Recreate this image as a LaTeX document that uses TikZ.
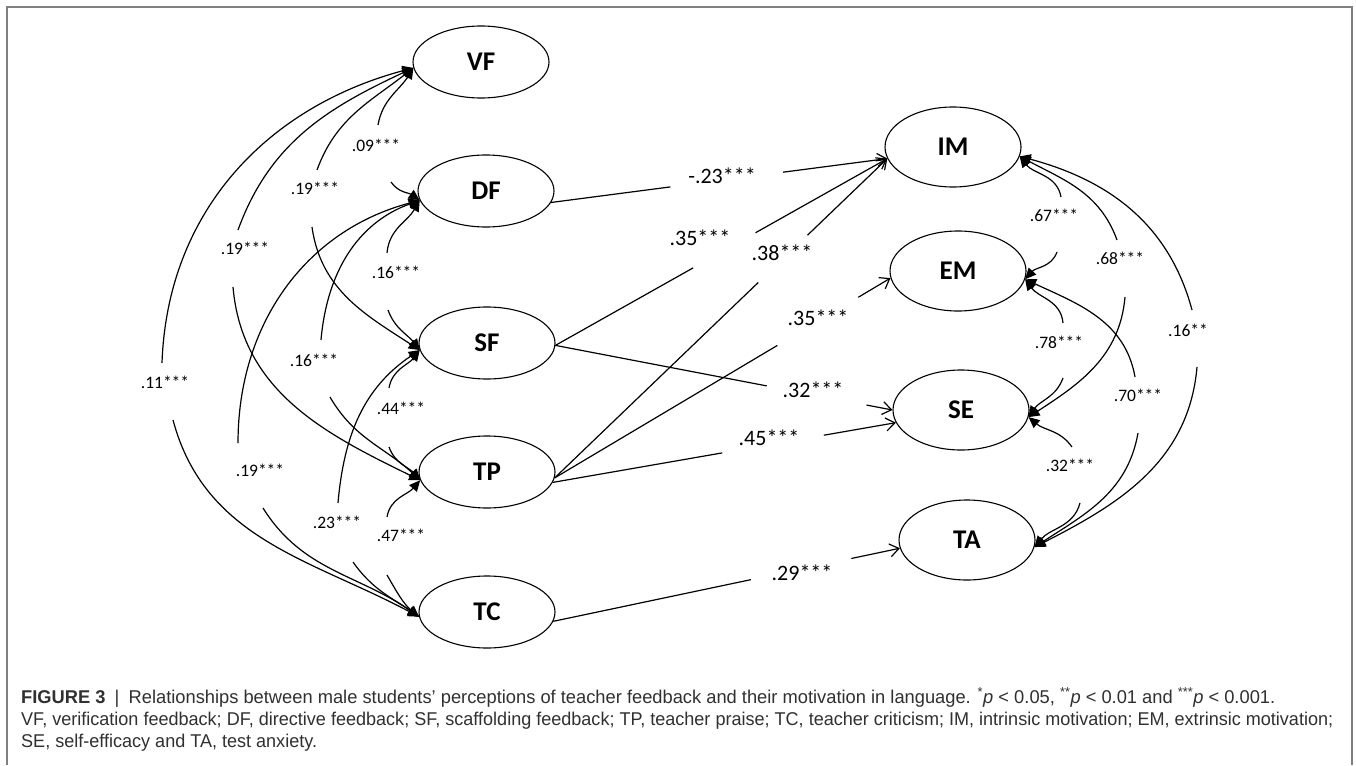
\documentclass[tikz,border=0pt]{standalone}
\usepackage{fontspec}
\setmainfont{Carlito}
\newfontfamily\capfont{Liberation Sans}
\usetikzlibrary{shapes.geometric,arrows.meta,calc}
\newsavebox\capboxa
\newsavebox\capboxb
\newsavebox\capboxc
\makeatletter
\newcommand\capscale[3]{\xdef#3{\strip@pt\dimexpr #1pt*65536/\wd#2\relax}}
\makeatother
\definecolor{framegray}{HTML}{808080}
\definecolor{captext}{HTML}{303030}
\begin{document}
\begin{tikzpicture}[x=1pt,y=1pt,
  lv/.style={ellipse,draw,line width=1.1pt,minimum width=136pt,minimum height=72pt,inner sep=0pt,
    font=\fontsize{27}{27}\selectfont\bfseries},
  rv/.style={lv,minimum height=80pt},
  cov/.style={line width=1.2pt},
  cstart/.style={cov,{Triangle[length=11pt,width=10pt]}-},
  cend/.style={cov,-{Triangle[length=11pt,width=10pt]}},
  dpath/.style={line width=1.2pt},
  dend/.style={line width=1.2pt,-{Straight Barb[length=9pt,width=13pt]}},
  covlab/.style={font=\fontsize{17.5}{17.5}\selectfont,inner sep=0pt},
  pathlab/.style={font=\fontsize{22}{22}\selectfont,inner sep=0pt},
  capline/.style={anchor=base west,inner sep=0pt,text=captext}]
\useasboundingbox (0,0) rectangle (1356,-765);
% frame
\draw[framegray,line width=1.6pt] (7,-765) -- (7,-7) -- (1352,-7) -- (1352,-765);

% latent variables
\node[lv] (VF) at (481,-62) {VF};
\node[lv] (DF) at (486,-191) {DF};
\node[lv] (SF) at (487,-343) {SF};
\node[lv] (TP) at (487,-472) {TP};
\node[lv] (TC) at (487,-612) {TC};
\node[rv] (IM) at (953,-147) {IM};
\node[rv] (EM) at (958,-271) {EM};
\node[rv] (SE) at (961,-410) {SE};
\node[rv] (TA) at (967,-540) {TA};

% ---------- left covariances ----------
% VF-DF
\coordinate (a1) at (378,-125); \coordinate (b1) at (391,-182);
\draw[cstart] (VF.185) to[out=238,in=80] (a1);
\draw[cend] (b1) to[out=-55,in=145] (DF.188);
\node[covlab] (l1) at (376,-145) {.09***};
% VF-SF
\coordinate (a2) at (317,-170); \coordinate (b2) at (312,-227);
\draw[cstart] (VF.185) to[out=218,in=70] (a2);
\draw[cend] (b2) to[out=-82,in=147] (SF.186);
\node[covlab] (l2) at (315,-188) {.19***};
% VF-TP
\coordinate (a3) at (238,-230); \coordinate (b3) at (233,-287);
\draw[cstart] (VF.185) to[out=205,in=70] (a3);
\draw[cend] (b3) to[out=-85,in=154] (TP.187);
\node[covlab] (l3) at (245,-248) {.19***};
% VF-TC
\coordinate (a4) at (162,-363); \coordinate (b4) at (173,-420);
\draw[cstart] (VF.185) to[out=195,in=88] (a4);
\draw[cend] (b4) to[out=-75,in=152] (TC.184);
\node[covlab] (l4) at (165,-382) {.11***};
% DF-SF
\coordinate (a5) at (387,-253); \coordinate (b5) at (388,-310);
\draw[cstart] (DF.188) to[out=240,in=85] (a5);
\draw[cend] (b5) to[out=-70,in=128] (SF.186);
\node[covlab] (l5) at (396,-272) {.16***};
% DF-TP
\coordinate (a6) at (321,-340); \coordinate (b6) at (330,-397);
\draw[cstart] (DF.188) to[out=200,in=85] (a6);
\draw[cend] (b6) to[out=-60,in=137] (TP.187);
\node[covlab] (l6) at (314,-360) {.16***};
% DF-TC
\coordinate (a7) at (238,-443); \coordinate (b7) at (263,-508);
\draw[cstart] (DF.188) to[out=195,in=90] (a7);
\draw[cend] (b7) to[out=-58,in=145] (TC.184);
\node[covlab] (l7) at (260,-470) {.19***};
% SF-TP
\coordinate (a8) at (389,-388); \coordinate (b8) at (389,-447);
\draw[cstart] (SF.186) to[out=232,in=80] (a8);
\draw[cend] (b8) to[out=-70,in=132] (TP.187);
\node[covlab] (l8) at (401,-408) {.44***};
% SF-TC
\coordinate (a9) at (338,-503); \coordinate (b9) at (353,-562);
\draw[cstart] (SF.186) to[out=214,in=85] (a9);
\draw[cend] (b9) to[out=-55,in=145] (TC.184);
\node[covlab] (l9) at (337,-522) {.23***};
% TP-TC
\coordinate (a10) at (387,-517); \coordinate (b10) at (387,-575);
\draw[cstart] (TP.187) to[out=229,in=80] (a10);
\draw[cend] (b10) to[out=-60,in=140] (TC.184);
\node[covlab] (l10) at (401,-535) {.47***};

% ---------- right covariances ----------
% IM-EM
\coordinate (ra) at (1061,-197); \coordinate (rb) at (1057,-252);
\draw[cstart] (IM.352) to[out=-52,in=100] (ra);
\draw[cend] (rb) to[out=-110,in=48] (EM.353);
\node[covlab] (r1) at (1054,-215) {.67***};
% IM-SE
\coordinate (rc) at (1117,-240); \coordinate (rd) at (1125,-297);
\draw[cstart] (IM.352) to[out=-28,in=110] (rc);
\draw[cend] (rd) to[out=-95,in=33] (SE.354);
\node[covlab] (r2) at (1120,-258) {.68***};
% IM-TA
\coordinate (re) at (1192,-310); \coordinate (rf) at (1197,-367);
\draw[cstart] (IM.352) to[out=-15,in=105] (re);
\draw[cend] (rf) to[out=-95,in=27] (TA.354);
\node[covlab] (r3) at (1188,-330) {.16**};
% EM-SE
\coordinate (rg) at (1063,-323); \coordinate (rh) at (1063,-378);
\draw[cstart] (EM.353) to[out=-54,in=95] (rg);
\draw[cend] (rh) to[out=-110,in=55] (SE.354);
\node[covlab] (r4) at (1059,-342) {.78***};
% EM-TA
\coordinate (ri) at (1135,-377); \coordinate (rj) at (1138,-433);
\draw[cstart] (EM.353) to[out=-25,in=100] (ri);
\draw[cend] (rj) to[out=-100,in=33] (TA.354);
\node[covlab] (r5) at (1138,-395) {.70***};
% SE-TA
\coordinate (rk) at (1072,-447); \coordinate (rl) at (1080,-503);
\draw[cstart] (SE.354) to[out=-40,in=125] (rk);
\draw[cend] (rl) to[out=-105,in=50] (TA.354);
\node[covlab] (r6) at (1070,-465) {.32***};

% ---------- regression paths ----------
% DF -> IM
\draw[dpath] (DF.350) -- ($(DF.350)!0.355!(IM.190)$);
\draw[dend] ($(DF.350)!0.69!(IM.190)$) -- (IM.190);
\node[pathlab] (p1) at (722,-176) {-.23***};
% SF -> IM
\draw[dpath] (SF.358) -- ($(SF.358)!0.415!(IM.190)$);
\draw[dend] ($(SF.358)!0.603!(IM.190)$) -- (IM.190);
\node[pathlab] (p2) at (700,-238) {.35***};
% TP -> IM
\draw[dpath] (TP.355) -- ($(TP.355)!0.612!(IM.190)$);
\draw[dend] ($(TP.355)!0.76!(IM.190)$) -- (IM.190);
\node[pathlab] (p3) at (782,-253) {.38***};
% TP -> EM
\draw[dpath] (TP.355) -- ($(TP.355)!0.663!(EM.186)$);
\draw[dend] ($(TP.355)!0.904!(EM.186)$) -- (EM.186);
\node[pathlab] (p4) at (818,-318) {.35***};
% SF -> SE
\draw[dpath] (SF.358) -- ($(SF.358)!0.627!(SE.180)$);
\draw[dend] ($(SF.358)!0.923!(SE.180)$) -- (SE.180);
\node[pathlab] (p5) at (813,-390) {.32***};
% TP -> SE
\draw[dpath] (TP.351) -- ($(TP.351)!0.494!(SE.191)$);
\draw[dend] ($(TP.351)!0.79!(SE.191)$) -- (SE.191);
\node[pathlab] (p6) at (769,-438) {.45***};
% TC -> TA
\draw[dpath] (TC.352) -- ($(TC.352)!0.57!(TA.187)$);
\draw[dend] ($(TC.352)!0.86!(TA.187)$) -- (TA.187);
\node[pathlab] (p7) at (802,-573) {.29***};

% ---------- caption ----------
\node[capline] (cap1) at (21,-703) {\capfont\fontsize{18.5}{20}\selectfont
  \sbox\capboxa{{\bfseries FIGURE 3}\enspace|\enspace Relationships between male students’ perceptions of teacher feedback and their motivation in language. \textsuperscript{*}\textit{p} < 0.05, \textsuperscript{**}\textit{p} < 0.01 and \textsuperscript{***}\textit{p} < 0.001.}%
  \capscale{1254}{\capboxa}{\capsxa}\scalebox{\capsxa}[1]{\usebox\capboxa}};
\node[capline] (cap2) at (21,-725) {\capfont\fontsize{18.5}{20}\selectfont
  \sbox\capboxb{VF, verification feedback; DF, directive feedback; SF, scaffolding feedback; TP, teacher praise; TC, teacher criticism; IM, intrinsic motivation; EM, extrinsic motivation;}%
  \capscale{1312}{\capboxb}{\capsxb}\scalebox{\capsxb}[1]{\usebox\capboxb}};
\node[capline] (cap3) at (21,-747) {\capfont\fontsize{18.5}{20}\selectfont
  \sbox\capboxc{SE, self-efficacy and TA, test anxiety.}%
  \scalebox{\capsxb}[1]{\usebox\capboxc}};
\end{tikzpicture}
\end{document}
